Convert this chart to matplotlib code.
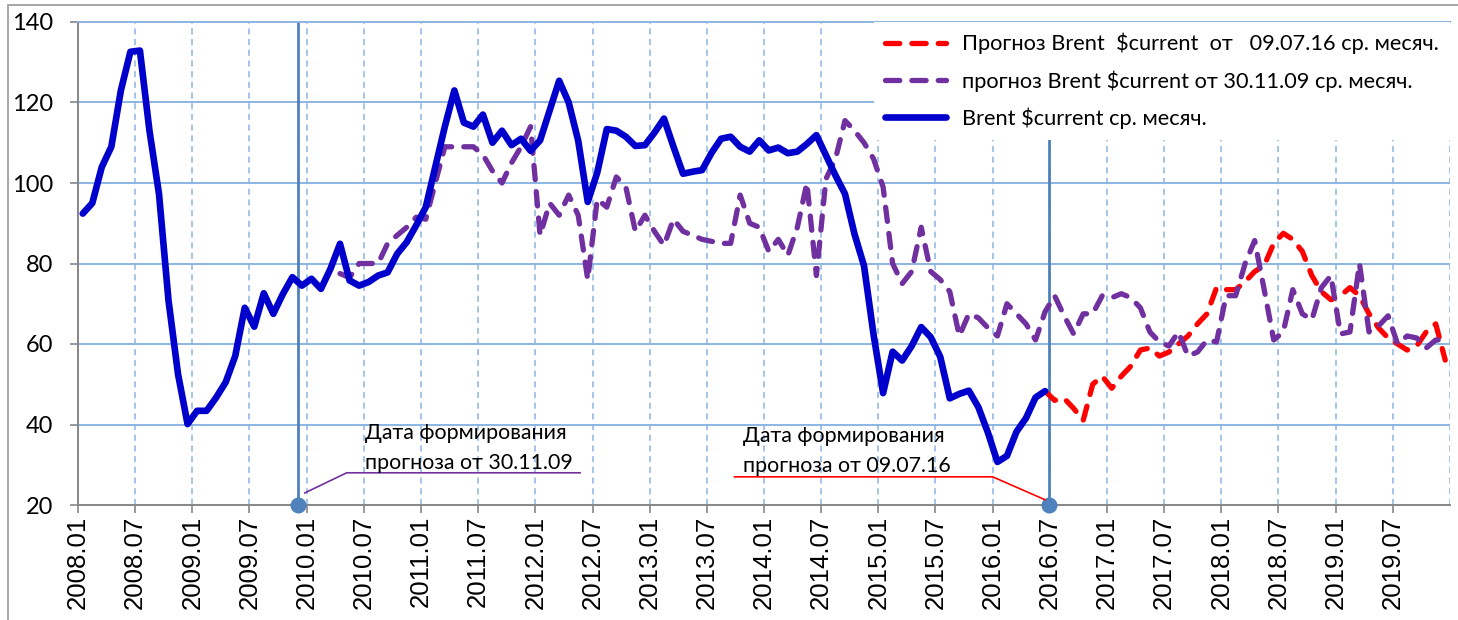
import matplotlib
matplotlib.use('Agg')
import matplotlib.pyplot as plt
from matplotlib.lines import Line2D
from matplotlib.patches import Rectangle

# ---------------- data (monthly, index 0 = 2008.01) ----------------
brent_actual = [92.4, 95, 104, 109, 123, 132.6, 132.9, 113, 97.3, 70.8, 52.5, 40.1,
                43.4, 43.4, 46.7, 50.5, 57, 69, 64.3, 72.6, 67.5, 72.4, 76.6, 74.5,
                76.2, 73.7, 78.7, 84.9, 75.8, 74.5, 75.4, 77, 77.8, 82.4, 85.3, 89.5,
                94, 104, 114, 123, 115, 114, 117, 110, 113, 109.4, 111, 108,
                110.6, 118, 125.4, 120, 110.5, 95.3, 102.6, 113.4, 113, 111.5, 109.2, 109.4,
                112.5, 116, 109, 102.3, 102.8, 103.2, 107.5, 111, 111.5, 109, 107.8, 110.6,
                108.1, 108.8, 107.4, 107.8, 109.7, 111.9, 106.9, 101.9, 97.3, 87.3, 79.4, 62.3,
                47.8, 58.1, 55.9, 59.5, 64.2, 61.7, 56.8, 46.5, 47.6, 48.4, 44.3, 38,
                30.7, 32.2, 38.2, 41.6, 46.7, 48.3]
brent_actual_start = 0

forecast_0911 = [77.5, 76.5, 80, 80, 80, 85, 87, 89, 91.5,
                 91, 100, 109, 109, 109, 109, 107, 103, 100, 105, 109, 114,
                 87, 95, 92, 97, 92, 76, 96, 94, 101.5, 99, 88, 92,
                 88, 84.5, 91, 88, 87, 86, 85.5, 85, 85, 97, 90, 89,
                 83, 86, 82, 89, 100, 77, 101, 106, 115.5, 113, 110, 106,
                 99, 80, 75, 78, 89, 78, 76, 73, 62, 67.5, 66.5, 64,
                 62, 70, 67.5, 65, 61, 68, 72, 67, 62.5, 67.5, 67.5, 72,
                 71.5, 72.5, 71.5, 69, 63, 60.5, 59.5, 63, 57, 58, 61, 60.5,
                 72, 72, 80, 85.7, 73.5, 61, 63, 73.5, 67.5, 66, 74, 77,
                 62.5, 63, 80, 63, 64.5, 67, 60, 62, 61.5, 59, 61, 61]
forecast_0911_start = 27

forecast_0716 = [48.3, 46, 46.5, 44, 41, 50, 52,
                 49, 52, 54.5, 58.5, 59, 57, 58, 60, 62, 65, 67.5, 74,
                 73.5, 73.5, 75.5, 78, 79.5, 85, 87.5, 86, 83, 77, 73, 71,
                 72, 74, 72, 67.5, 64, 61.5, 60, 58.5, 59.5, 63, 65, 56]
forecast_0716_start = 101

tick_labels = ['2008.01', '2008.07', '2009.01', '2009.07', '2010.01', '2010.07',
               '2011.01', '2011.07', '2012.01', '2012.07', '2013.01', '2013.07',
               '2014.01', '2014.07', '2015.01', '2015.07', '2016.01', '2016.07',
               '2017.01', '2017.07', '2018.01', '2018.07', '2019.01', '2019.07']
y_ticks = [20, 40, 60, 80, 100, 120, 140]

legend_labels = ['Прогноз Brent  $current  от   09.07.16 ср. месяч.',
                 'прогноз Brent $current от 30.11.09 ср. месяч.',
                 'Brent $current ср. месяч.']
annot_texts = ['Дата формирования\nпрогноза от 30.11.09',
               'Дата формирования\nпрогноза от 09.07.16']
forecast_dates = [23.1, 101.9]   # months since 2008.01

# ---------------- style ----------------
CAL = ['Lato', 'Open Sans', 'DejaVu Sans']
ARI = ['Liberation Sans', 'DejaVu Sans']
BLUE = '#0000CC'
PURPLE = '#7030A0'
RED = '#FF0000'
GRID = '#8DB4E2'
MARK = '#4F81BD'
AXGRAY = '#868686'

W, H = 1458, 620
fig = plt.figure(figsize=(W / 100, H / 100), dpi=100)
ax = fig.add_axes([78 / W, 1 - 505 / H, (1450 - 78) / W, (505 - 22) / H])

def xs(start, n):
    return [start + k + 0.5 for k in range(n)]

# gridlines
for y in y_ticks[1:]:
    ax.axhline(y, color=GRID, lw=1.4, zorder=1)
n_months = 144
for m in range(6, n_months + 1, 6):
    ax.axvline(m, color=GRID, lw=1.1, ls=(0, (4, 3)), zorder=1)

# forecast date markers
for d in forecast_dates:
    ax.plot([d, d], [20, 140], color=MARK, lw=2.0, zorder=2, solid_capstyle='butt')
    ax.plot([d], [20], 'o', color=MARK, ms=10.5, zorder=6, clip_on=False)

LW_D = 3.8
dash = (0, (2.7, 2.3))
l_red, = ax.plot(xs(forecast_0716_start, len(forecast_0716)), forecast_0716, color=RED,
                 lw=LW_D, ls=dash, dash_capstyle='round', zorder=3)
l_pur, = ax.plot(xs(forecast_0911_start, len(forecast_0911)), forecast_0911, color=PURPLE,
                 lw=LW_D, ls=dash, dash_capstyle='round', zorder=4)
l_blue, = ax.plot(xs(brent_actual_start, len(brent_actual)), brent_actual, color=BLUE,
                  lw=4.8, solid_capstyle='round', solid_joinstyle='round', zorder=5)

# annotations with leader lines
ax.plot([23.8, 28.2, 52.7], [23.0, 28.0, 28.0], color=PURPLE, lw=1.2, zorder=6)
ax.plot([101.5, 96.0, 68.9], [21.3, 27.0, 27.0], color=RED, lw=1.2, zorder=6)
ax.text(30.1, 28.0, annot_texts[0], fontsize=15.4, family=CAL, va='bottom', ha='left',
        linespacing=1.6, zorder=7)
ax.text(69.8, 27.3, annot_texts[1], fontsize=15.4, family=CAL, va='bottom', ha='left',
        linespacing=1.6, zorder=7)

# axes
ax.set_xlim(0, n_months)
ax.set_ylim(20, 140)
ax.set_yticks(y_ticks)
ax.set_yticklabels([str(v) for v in y_ticks], fontsize=17, family=CAL)
ax.set_xticks(range(0, n_months, 6))
ax.set_xticklabels(tick_labels, rotation=90, fontsize=18.5, family=ARI)
ax.tick_params(axis='y', length=6, width=1.2, color=AXGRAY, pad=12)
ax.tick_params(axis='x', length=6, width=1.2, color=AXGRAY, pad=2)
for s in ['left', 'bottom']:
    ax.spines[s].set_color(AXGRAY)
    ax.spines[s].set_linewidth(1.4)
ax.spines['top'].set_color(GRID)
ax.spines['top'].set_linewidth(1.4)
ax.spines['right'].set_visible(False)

# legend
handles = [Line2D([], [], color=RED, lw=LW_D, ls=dash, dash_capstyle='round'),
           Line2D([], [], color=PURPLE, lw=LW_D, ls=dash, dash_capstyle='round'),
           Line2D([], [], color=BLUE, lw=4.8, solid_capstyle='round')]
leg = ax.legend(handles, legend_labels, loc='upper right', bbox_to_anchor=(1.0, 1.0),
                prop={'family': CAL, 'size': 15.7}, frameon=True, fancybox=False,
                handlelength=2.8, handletextpad=0.75, labelspacing=0.72,
                borderpad=0.5, borderaxespad=0.0)
leg.get_frame().set_facecolor('white')
leg.get_frame().set_edgecolor('none')
leg.get_frame().set_alpha(1)
leg.set_zorder(10)

# outer frame of the chart object
fig.add_artist(Rectangle((8 / W, -0.1), 1.2, 1 - 5 / H + 0.1, transform=fig.transFigure,
                         fill=False, edgecolor='#A0A0A0', lw=1.3))

fig.savefig('out.png', dpi=100)
